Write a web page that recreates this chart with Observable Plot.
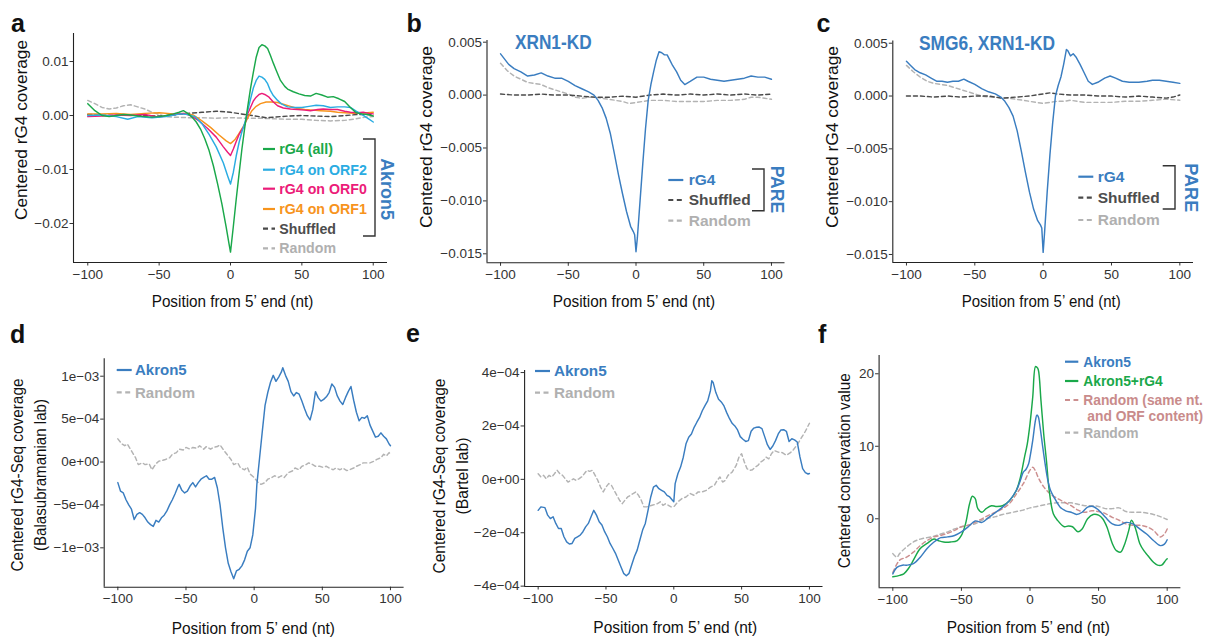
<!DOCTYPE html>
<html><head><meta charset="utf-8">
<script src="https://cdn.jsdelivr.net/npm/d3@7"></script>
<script src="https://cdn.jsdelivr.net/npm/@observablehq/plot@0.6"></script>
<style>
html,body{margin:0;padding:0;background:#fff;}
#root{position:relative;width:1205px;height:638px;overflow:hidden;background:#fff;}
#root svg{position:absolute;left:0;top:0;}
</style>
</head><body><div id="root"></div>
<script>
// ---------- shared axis data ----------
const X_TICKS = [-100, -50, 0, 50, 100];
const X_TICK_LABELS = ["−100", "−50", "0", "50", "100"];
const X_TITLE = "Position from 5’ end (nt)";

// ---------- panel a ----------
const aYTicks = [-0.02, -0.01, 0, 0.01];
const aYLabels = ["−0.02", "−0.01", "0.00", "0.01"];
const aAllPos = [-100,-95,-90,-85,-80,-75,-70,-65,-60,-55,-50,-45,-40,-36,-33,-30,-27,-24,-21,-18,-15,-12,-9,-6,-3,-1,0,2,4,6,8,10,12,14,16,18,20,22,24,26,28,30,32,35,38,40,44,48,52,56,60,64,68,72,76,80,84,88,92,96,100];
const aAllVal = [0.0022,0.0009,0.0000,-0.0002,0.0000,0.0002,0.0001,-0.0001,-0.0002,-0.0003,-0.0002,0.0000,0.0003,0.0006,0.0009,0.0004,-0.0003,-0.0012,-0.0025,-0.0043,-0.0065,-0.0093,-0.0127,-0.0164,-0.0207,-0.0238,-0.0253,-0.0205,-0.0155,-0.0108,-0.0062,-0.0022,0.0015,0.0050,0.0080,0.0108,0.0126,0.0131,0.0129,0.0124,0.0111,0.0097,0.0084,0.0065,0.0054,0.0049,0.0044,0.0040,0.0037,0.0036,0.0041,0.0038,0.0034,0.0035,0.0031,0.0026,0.0015,0.0005,0.0003,0.0002,-0.0001];
const aOrf2Pos = [-100,-90,-80,-72,-65,-55,-45,-35,-30,-25,-20,-15,-10,-5,-2,0,2,4,6,8,10,12,14,16,18,20,22,24,26,28,30,33,36,40,45,50,55,60,65,70,75,80,84,88,92,96,100];
const aOrf2Val = [0.0000,0.0001,-0.0002,-0.0007,-0.0002,-0.0004,-0.0002,0.0003,0.0002,-0.0002,-0.0015,-0.0035,-0.0058,-0.0088,-0.0112,-0.0127,-0.0105,-0.0075,-0.0050,-0.0030,-0.0014,0.0008,0.0030,0.0051,0.0065,0.0073,0.0071,0.0067,0.0059,0.0046,0.0037,0.0028,0.0021,0.0016,0.0015,0.0015,0.0017,0.0019,0.0018,0.0015,0.0016,0.0016,0.0015,0.0008,0.0002,-0.0005,-0.0012];
const aOrf0Pos = [-100,-90,-80,-70,-60,-50,-40,-33,-28,-22,-16,-10,-5,-2,0,2,4,6,8,10,12,14,16,18,20,22,24,27,30,33,37,42,47,52,56,61,65,70,75,80,84,89,93,97,100];
const aOrf0Val = [-0.0002,-0.0001,0.0001,0.0000,0.0002,-0.0003,0.0002,0.0004,0.0000,-0.0010,-0.0024,-0.0040,-0.0058,-0.0068,-0.0074,-0.0062,-0.0048,-0.0035,-0.0026,-0.0017,0.0003,0.0015,0.0027,0.0034,0.0039,0.0041,0.0039,0.0034,0.0025,0.0018,0.0014,0.0012,0.0011,0.0010,0.0009,0.0011,0.0012,0.0011,0.0011,0.0008,0.0006,0.0005,0.0006,0.0004,0.0003];
const aOrf1Pos = [-100,-90,-80,-70,-60,-50,-40,-32,-26,-20,-14,-8,-3,0,3,6,9,12,15,18,21,25,29,33,37,42,47,52,58,63,70,75,80,86,92,96,100];
const aOrf1Val = [0.0003,0.0003,0.0004,0.0002,0.0004,0.0005,0.0003,0.0004,0.0001,-0.0010,-0.0022,-0.0036,-0.0047,-0.0052,-0.0045,-0.0033,-0.0020,-0.0005,0.0009,0.0017,0.0022,0.0025,0.0025,0.0024,0.0021,0.0017,0.0013,0.0011,0.0010,0.0009,0.0008,0.0006,0.0005,0.0004,0.0004,0.0005,0.0006];
const aShufPos = [-100,-90,-80,-70,-60,-50,-40,-30,-20,-10,0,5,10,15,20,25,30,40,50,60,70,80,90,100];
const aShufVal = [0.0002,0.0001,0.0000,0.0001,0.0000,-0.0001,0.0001,0.0004,0.0006,0.0008,0.0006,0.0004,0.0002,0.0000,-0.0002,-0.0004,-0.0003,-0.0001,0.0000,-0.0001,-0.0002,0.0000,0.0002,0.0002];
const aRandPos = [-100,-95,-90,-85,-80,-75,-70,-65,-60,-55,-50,-45,-40,-30,-20,-10,0,10,20,30,40,50,60,70,80,88,94,100];
const aRandVal = [0.0028,0.0022,0.0015,0.0012,0.0014,0.0018,0.0020,0.0016,0.0012,0.0006,0.0002,-0.0002,-0.0003,-0.0004,-0.0004,-0.0005,-0.0004,-0.0005,-0.0005,-0.0006,-0.0007,-0.0007,-0.0009,-0.0010,-0.0009,-0.0006,-0.0003,-0.0002];

// ---------- panels b, c ----------
const bcYTicks = [-0.015, -0.01, -0.005, 0, 0.005];
const bcYLabels = ["−0.015", "−0.010", "−0.005", "0.000", "0.005"];
const bRg4Pos = [-100,-97,-94,-90,-85,-80,-75,-70,-65,-60,-55,-50,-45,-40,-35,-31,-28,-25,-22,-19,-16,-13,-10,-7,-4,-2,-1,0,1,3,5,7,9,11,13,15,17,19,21,23,25,27,30,33,36,40,45,50,55,60,65,70,75,80,85,90,95,100];
const bRg4Val = [0.0039,0.0034,0.0029,0.0025,0.0022,0.0018,0.0019,0.0021,0.0018,0.0016,0.0016,0.0013,0.0009,0.0006,0.0003,0.0000,-0.0005,-0.0012,-0.0022,-0.0036,-0.0055,-0.0075,-0.0093,-0.0110,-0.0124,-0.0129,-0.0132,-0.0148,-0.0135,-0.0100,-0.0065,-0.0032,-0.0005,0.0010,0.0022,0.0033,0.0041,0.0040,0.0038,0.0038,0.0033,0.0028,0.0022,0.0014,0.0010,0.0013,0.0017,0.0017,0.0015,0.0014,0.0013,0.0014,0.0015,0.0016,0.0018,0.0017,0.0017,0.0015];
const bShufPos = [-100,-90,-80,-70,-60,-50,-40,-30,-20,-10,0,10,20,30,40,50,60,70,80,90,100];
const bShufVal = [0.0001,0.0000,0.0000,0.0001,0.0000,0.0000,-0.0001,-0.0002,-0.0002,-0.0001,-0.0002,0.0000,0.0001,0.0000,0.0001,0.0000,0.0001,0.0000,0.0001,0.0000,0.0001];
const bRandPos = [-100,-95,-90,-85,-80,-75,-70,-65,-60,-55,-50,-45,-40,-35,-30,-25,-20,-15,-10,-5,0,5,10,20,30,40,50,60,70,80,85,90,95,100];
const bRandVal = [0.0030,0.0023,0.0018,0.0015,0.0012,0.0011,0.0010,0.0007,0.0005,0.0003,0.0001,-0.0002,-0.0003,-0.0002,-0.0002,-0.0003,-0.0004,-0.0005,-0.0006,-0.0008,-0.0007,-0.0006,-0.0005,-0.0005,-0.0006,-0.0006,-0.0006,-0.0005,-0.0005,-0.0004,-0.0002,-0.0002,-0.0003,-0.0004];

const cRg4Pos = [-100,-97,-94,-90,-86,-82,-78,-74,-70,-66,-62,-58,-55,-50,-45,-40,-35,-31,-28,-25,-22,-19,-16,-13,-10,-7,-4,-2,-1,0,1,3,5,7,9,11,13,15,17,18,20,22,24,27,30,33,36,40,45,49,53,58,63,70,76,80,85,90,95,100];
const cRg4Val = [0.0033,0.0029,0.0025,0.0022,0.0020,0.0017,0.0014,0.0014,0.0013,0.0014,0.0014,0.0016,0.0014,0.0011,0.0007,0.0004,0.0002,-0.0001,-0.0005,-0.0011,-0.0019,-0.0033,-0.0052,-0.0072,-0.0091,-0.0107,-0.0118,-0.0122,-0.0125,-0.0148,-0.0130,-0.0090,-0.0055,-0.0025,0.0000,0.0010,0.0018,0.0030,0.0044,0.0043,0.0038,0.0040,0.0037,0.0030,0.0022,0.0014,0.0011,0.0013,0.0017,0.0019,0.0017,0.0014,0.0013,0.0013,0.0014,0.0015,0.0015,0.0014,0.0013,0.0012];
const cShufPos = [-100,-90,-80,-70,-60,-50,-40,-30,-20,-10,-5,0,5,10,20,30,40,50,60,70,80,90,95,100];
const cShufVal = [0.0000,0.0000,-0.0001,0.0000,-0.0001,0.0000,0.0000,-0.0002,-0.0001,0.0000,0.0001,0.0002,0.0003,0.0002,0.0001,0.0001,0.0000,0.0000,-0.0001,0.0000,-0.0001,-0.0002,-0.0001,0.0001];
const cRandPos = [-100,-95,-90,-85,-80,-75,-70,-65,-60,-55,-50,-45,-40,-35,-30,-25,-20,-15,-10,-5,0,5,10,15,20,25,30,40,50,60,70,80,90,100];
const cRandVal = [0.0029,0.0023,0.0018,0.0014,0.0012,0.0011,0.0010,0.0008,0.0006,0.0004,0.0002,0.0000,-0.0001,-0.0001,-0.0002,-0.0002,-0.0003,-0.0004,-0.0005,-0.0006,-0.0007,-0.0006,-0.0005,-0.0005,-0.0004,-0.0005,-0.0006,-0.0006,-0.0006,-0.0005,-0.0005,-0.0004,-0.0003,-0.0004];

// ---------- panel d ----------
const dYTicks = [-1e-3, -5e-4, 0, 5e-4, 1e-3];
const dYLabels = ["−1e−03", "−5e−04", "0e+00", "5e−04", "1e−03"];
const dAkronPos = [-100,-98,-96,-94,-92,-90,-88,-86,-84,-82,-80,-78,-76,-74,-72,-70,-68,-66,-64,-62,-60,-58,-56,-55,-53,-51,-49,-47,-45,-43,-41,-39,-37,-35,-33,-31,-29,-27,-25,-23,-21,-19,-17,-15,-13,-11,-9,-7,-5,-3,-1,1,2,4,6,8,10,12,14,16,18,20,21,23,25,27,29,31,33,35,37,39,41,43,45,47,49,51,53,55,57,59,61,63,65,67,69,71,73,75,77,79,81,83,85,87,89,91,93,95,97,99,100];
const dAkronVal = [-2.4e-4,-3.4e-4,-3.6e-4,-4.4e-4,-5.0e-4,-5.5e-4,-6.7e-4,-6.1e-4,-5.9e-4,-6.1e-4,-6.5e-4,-7.0e-4,-7.3e-4,-7.5e-4,-6.8e-4,-7.0e-4,-6.5e-4,-6.2e-4,-5.7e-4,-5.0e-4,-4.4e-4,-3.7e-4,-2.9e-4,-2.6e-4,-3.3e-4,-3.6e-4,-3.4e-4,-2.8e-4,-2.4e-4,-2.9e-4,-2.4e-4,-2.0e-4,-1.8e-4,-1.6e-4,-2.0e-4,-2.0e-4,-1.8e-4,-3.0e-4,-5.0e-4,-7.7e-4,-1.0e-3,-1.18e-3,-1.28e-3,-1.36e-3,-1.27e-3,-1.25e-3,-1.21e-3,-1.14e-3,-1.04e-3,-1.0e-3,-8.5e-4,-5.4e-4,-2.6e-4,5e-5,3.6e-4,6.6e-4,8.1e-4,9.3e-4,1.01e-3,9.4e-4,9.9e-4,1.05e-3,1.1e-3,1.01e-3,9.4e-4,8.2e-4,7.7e-4,8.1e-4,7.9e-4,7.1e-4,6.2e-4,5.4e-4,4.9e-4,6.1e-4,8.2e-4,7.5e-4,7.1e-4,7.3e-4,7.6e-4,8.1e-4,9.1e-4,8.7e-4,7.7e-4,7.1e-4,6.7e-4,7.5e-4,8.2e-4,8.8e-4,7.2e-4,5.8e-4,4.8e-4,5.2e-4,5.1e-4,5.4e-4,4.3e-4,3.6e-4,2.9e-4,3.0e-4,3.4e-4,3.0e-4,2.7e-4,2.1e-4,1.9e-4];
const dRandPos = [-100,-97,-95,-93,-90,-87,-85,-82,-80,-77,-75,-72,-70,-67,-65,-62,-60,-57,-55,-52,-50,-47,-45,-42,-40,-37,-35,-32,-30,-27,-25,-22,-20,-17,-15,-12,-10,-7,-5,-3,0,3,5,8,10,13,15,18,20,22,25,28,30,33,35,38,40,43,45,48,50,53,55,58,60,63,65,68,70,73,75,78,80,83,85,88,90,93,95,97,99,100];
const dRandVal = [2.7e-4,2.1e-4,1.9e-4,2.1e-4,1.3e-4,5e-5,-3e-5,-1e-5,-3e-5,-2e-5,-9e-5,-2e-5,1e-5,2e-5,3e-5,5e-5,9e-5,1.1e-4,1.5e-4,1.4e-4,1.7e-4,1.5e-4,1.7e-4,1.6e-4,1.9e-4,1.5e-4,1.8e-4,1.5e-4,1.7e-4,1.8e-4,2.0e-4,1.3e-4,9e-5,3e-5,-3e-5,-1e-5,-7e-5,-9e-5,-6e-5,-1.4e-4,-1.8e-4,-2.4e-4,-2.6e-4,-2.4e-4,-2.0e-4,-1.8e-4,-1.6e-4,-1.8e-4,-1.6e-4,-1.8e-4,-1.25e-4,-1.05e-4,-7e-5,-9e-5,-5e-5,-3e-5,-1e-5,-3e-5,-5e-5,-5e-5,-6e-5,-5e-5,-7e-5,-9e-5,-7e-5,-9e-5,-7e-5,-1.0e-4,-9e-5,-7e-5,-5e-5,-3e-5,-1e-5,-1e-5,-1e-5,1e-5,3e-5,5e-5,9e-5,7e-5,1.1e-4,9e-5];

// ---------- panel e ----------
const eYTicks = [-4e-4, -2e-4, 0, 2e-4, 4e-4];
const eYLabels = ["−4e−04", "−2e−04", "0e+00", "2e−04", "4e−04"];
const eAkronPos = [-100,-98,-95,-93,-91,-89,-87,-85,-83,-81,-79,-77,-75,-73,-71,-69,-67,-65,-63,-61,-59,-57,-55,-53,-51,-49,-47,-45,-43,-41,-39,-37,-35,-33,-31,-29,-27,-25,-23,-21,-19,-17,-15,-13,-11,-9,-7,-5,-3,-1,0,1,3,5,7,9,11,13,15,17,19,21,23,25,27,28,29,31,33,35,37,39,41,43,45,47,49,51,53,55,57,59,61,63,65,67,69,71,73,75,77,79,81,83,85,87,89,91,93,95,97,99,100];
const eAkronVal = [-1.16e-4,-1.03e-4,-1.06e-4,-1.34e-4,-1.47e-4,-1.40e-4,-1.65e-4,-1.84e-4,-1.84e-4,-2.15e-4,-2.34e-4,-2.42e-4,-2.40e-4,-2.21e-4,-2.15e-4,-2.09e-4,-1.96e-4,-1.78e-4,-1.65e-4,-1.40e-4,-1.16e-4,-1.34e-4,-1.59e-4,-1.71e-4,-1.96e-4,-2.15e-4,-2.40e-4,-2.58e-4,-2.77e-4,-3.02e-4,-3.27e-4,-3.52e-4,-3.61e-4,-3.52e-4,-3.20e-4,-2.89e-4,-2.65e-4,-2.27e-4,-1.90e-4,-1.65e-4,-1.16e-4,-0.66e-4,-0.29e-4,-0.22e-4,-0.35e-4,-0.41e-4,-0.47e-4,-0.60e-4,-0.66e-4,-0.78e-4,-0.84e-4,-0.16e-4,0.21e-4,0.46e-4,0.83e-4,1.33e-4,1.58e-4,1.70e-4,1.95e-4,2.14e-4,2.32e-4,2.57e-4,2.76e-4,2.94e-4,3.32e-4,3.69e-4,3.63e-4,3.25e-4,3.00e-4,2.90e-4,2.75e-4,2.50e-4,2.28e-4,2.10e-4,2.00e-4,1.85e-4,1.60e-4,1.50e-4,1.42e-4,1.45e-4,1.80e-4,1.92e-4,1.95e-4,1.96e-4,1.90e-4,1.60e-4,1.30e-4,1.12e-4,1.25e-4,1.45e-4,1.70e-4,1.85e-4,1.86e-4,1.80e-4,1.42e-4,1.52e-4,1.48e-4,1.40e-4,0.84e-4,0.40e-4,0.25e-4,0.20e-4,0.22e-4];
const eRandPos = [-100,-98,-96,-94,-92,-90,-88,-86,-84,-82,-80,-78,-76,-74,-72,-70,-68,-66,-64,-62,-60,-58,-56,-54,-52,-50,-48,-46,-44,-42,-40,-38,-36,-34,-32,-30,-28,-26,-24,-22,-20,-16,-12,-10,-8,-6,-4,-2,0,3,6,9,12,15,18,21,24,27,30,32,34,36,38,40,43,46,48,50,52,54,56,58,60,62,64,66,68,70,72,74,77,80,83,86,88,91,94,97,100];
const eRandVal = [2.1e-5,0.9e-5,1.5e-5,0.2e-5,1.5e-5,0.9e-5,2.1e-5,3.4e-5,2.1e-5,1.5e-5,0.2e-5,-1.0e-5,-0.4e-5,0.2e-5,-0.4e-5,0.2e-5,0.9e-5,2.1e-5,3.4e-5,3.0e-5,3.4e-5,1.5e-5,-0.4e-5,-2.9e-5,-4.7e-5,-2.9e-5,-1.6e-5,-2.2e-5,-4.1e-5,-6.0e-5,-7.8e-5,-9.1e-5,-7.8e-5,-6.6e-5,-6.0e-5,-5.3e-5,-4.7e-5,-6.0e-5,-7.8e-5,-10.3e-5,-10.3e-5,-9.7e-5,-9.1e-5,-8.4e-5,-9.7e-5,-9.1e-5,-9.7e-5,-10.3e-5,-10.3e-5,-8.4e-5,-7.2e-5,-6.6e-5,-5.3e-5,-6.0e-5,-4.7e-5,-4.7e-5,-4.1e-5,-2.9e-5,-2.2e-5,-0.4e-5,0.9e-5,-1.0e-5,-0.4e-5,1.5e-5,2.7e-5,5.2e-5,8.3e-5,9.6e-5,6.5e-5,4.0e-5,3.4e-5,3.6e-5,4.6e-5,5.2e-5,6.5e-5,7.1e-5,8.3e-5,7.7e-5,9.6e-5,10.8e-5,10.2e-5,10.0e-5,9.0e-5,10.0e-5,11.0e-5,13.0e-5,15.5e-5,18.0e-5,21.0e-5];

// ---------- panel f ----------
const fYTicks = [0, 10, 20];
const fYLabels = ["0", "10", "20"];
const fAkronPos = [-100,-97,-93,-90,-85,-80,-75,-70,-67,-65,-60,-55,-50,-45,-40,-35,-30,-25,-20,-15,-10,-7,-5,-3,-1,0,2,4,5,6,7,9,11,13,15,18,22,26,30,34,38,42,46,50,55,60,65,70,75,80,85,90,95,98,100];
const fAkronVal = [-7.6,-6.7,-6.4,-6.4,-6.2,-5.3,-4.1,-3.2,-2.8,-2.6,-2.5,-2.3,-1.8,-1.1,-0.3,-0.5,0.2,0.9,1.6,2.5,3.9,5.3,6.4,6.8,7.6,8.5,10.8,13.6,14.3,14.1,13.1,10.3,7.6,5.3,3.9,2.8,1.6,1.1,0.9,0.6,0.9,1.6,1.7,1.2,0.2,-0.7,-0.9,-0.5,-0.7,-1.4,-2.1,-3.0,-3.7,-3.5,-2.9];
const fGreenPos = [-100,-95,-92,-88,-85,-80,-75,-70,-67,-63,-58,-53,-50,-47,-44,-42,-40,-38,-35,-32,-28,-25,-20,-15,-10,-7,-4,-2,0,2,4,5,6,8,10,12,14,17,20,25,28,31,35,38,42,46,50,53,56,60,63,66,69,72,74,77,80,83,86,90,93,96,99,100];
const fGreenVal = [-8.0,-7.8,-7.6,-6.7,-5.7,-4.1,-3.4,-2.8,-3.0,-3.2,-3.2,-3.0,-2.3,-0.7,2.1,3.1,2.8,1.4,0.9,1.4,1.8,1.7,1.8,2.5,3.9,5.7,8.5,10.3,13.1,16.8,21.0,20.9,20.6,16.3,11.7,8.0,3.9,0.7,-0.2,-1.1,-1.0,-1.1,-1.8,-1.4,0.0,0.6,0.5,0.0,-1.1,-3.4,-4.4,-4.6,-3.5,-1.6,-0.2,-1.4,-3.4,-4.4,-5.1,-6.0,-6.4,-6.4,-5.7,-5.5];
const fRandNtPos = [-100,-95,-90,-85,-80,-75,-70,-65,-60,-55,-50,-45,-40,-35,-30,-25,-20,-15,-10,-5,0,2,4,6,10,15,20,25,30,35,40,45,50,55,60,65,70,75,80,85,90,95,98,100];
const fRandNtVal = [-7.4,-5.7,-5.3,-4.6,-3.7,-3.0,-2.5,-2.3,-2.0,-1.6,-1.1,-0.9,-0.5,0.0,0.5,0.9,1.4,2.1,3.4,4.8,6.7,7.1,6.6,5.7,4.4,3.4,2.8,2.3,1.8,1.2,0.9,1.1,1.0,0.7,0.2,-0.2,-0.7,-0.9,-0.9,-1.1,-1.6,-2.5,-2.1,-1.4];
const fRandPos = [-100,-97,-95,-90,-85,-80,-75,-70,-65,-60,-55,-50,-45,-40,-35,-30,-25,-20,-15,-10,-5,0,5,10,15,20,25,30,35,40,45,50,55,60,65,70,75,80,85,90,95,100];
const fRandVal = [-4.8,-5.3,-4.8,-3.9,-3.2,-2.8,-2.6,-2.4,-2.1,-1.8,-1.4,-1.1,-0.9,-0.7,-0.2,0.1,0.3,0.6,0.8,1.0,1.2,1.5,1.7,1.9,2.1,2.2,2.2,2.2,2.0,1.8,1.8,1.7,1.4,1.4,1.5,1.0,0.9,0.9,0.8,0.6,0.3,-0.1];

// ---------- styling ----------
const FONT = '"Liberation Sans", Arial, Helvetica, sans-serif';
const COL = {blue:"#3a7dc0", green:"#1aa84a", cyan:"#2aace2", magenta:"#ec1c79", orange:"#f7941d",
             dark:"#4a4a4a", light:"#b3b3b3", rosy:"#cc8f8f", axis:"#222", tick:"#333"};
const DASH = "5,3.5";
const W = 1205, H = 638;
const root = document.getElementById("root");
const pairs = (xs, ys) => xs.map((x, i) => ({x, y: ys[i]}));

function panel(p) {
  const [L, R, T, B] = p.frame;
  const marks = [
    Plot.ruleX([p.xDomain[0]], {stroke: COL.axis, strokeWidth: 1.1}),
    Plot.ruleY([p.yDomain[0]], {stroke: COL.axis, strokeWidth: 1.1}),
    ...p.series.map(s => Plot.line(pairs(s.pos, s.val), {
      x: "x", y: "y", stroke: s.color, strokeWidth: 1.45,
      strokeDasharray: s.dash ? "4,3" : null, curve: p.curve || "linear"}))
  ];
  const svg = Plot.plot({
    width: W, height: H,
    marginLeft: L, marginRight: W - R, marginTop: T, marginBottom: H - B,
    x: {domain: p.xDomain, ticks: X_TICKS, tickFormat: d => X_TICK_LABELS[X_TICKS.indexOf(d)],
        tickSize: 3.5, tickPadding: 3, label: null},
    y: {domain: p.yDomain, ticks: p.yTicks, tickFormat: d => p.yLabels[p.yTicks.indexOf(d)],
        tickSize: 3.5, tickPadding: 1.5, label: null},
    style: {background: "transparent", fontFamily: FONT, fontSize: "13.5px", color: COL.tick, overflow: "visible"},
    marks
  });
  svg.style.position = "absolute"; svg.style.left = "0px"; svg.style.top = "0px";
  root.appendChild(svg);
}

const XD = [-110, 110];
panel({frame: [73, 387, 33, 262], xDomain: XD, yDomain: [-0.02722, 0.01519], yTicks: aYTicks, yLabels: aYLabels,
  series: [
    {pos: aRandPos, val: aRandVal, color: COL.light, dash: true},
    {pos: aShufPos, val: aShufVal, color: COL.dark, dash: true},
    {pos: aOrf1Pos, val: aOrf1Val, color: COL.orange},
    {pos: aOrf0Pos, val: aOrf0Val, color: COL.magenta},
    {pos: aOrf2Pos, val: aOrf2Val, color: COL.cyan},
    {pos: aAllPos, val: aAllVal, color: COL.green}]});
panel({frame: [486.5, 784.5, 40, 262.3], xDomain: XD, yDomain: [-0.01585, 0.00516], yTicks: bcYTicks, yLabels: bcYLabels,
  series: [
    {pos: bRandPos, val: bRandVal, color: COL.light, dash: true},
    {pos: bShufPos, val: bShufVal, color: COL.dark, dash: true},
    {pos: bRg4Pos, val: bRg4Val, color: COL.blue}]});
panel({frame: [892.3, 1193, 40.6, 262], xDomain: XD, yDomain: [-0.01576, 0.0052], yTicks: bcYTicks, yLabels: bcYLabels,
  series: [
    {pos: cRandPos, val: cRandVal, color: COL.light, dash: true},
    {pos: cShufPos, val: cShufVal, color: COL.dark, dash: true},
    {pos: cRg4Pos, val: cRg4Val, color: COL.blue}]});
panel({frame: [103.7, 403.6, 358.3, 586.7], xDomain: XD, yDomain: [-1.459e-3, 1.203e-3], yTicks: dYTicks, yLabels: dYLabels,
  series: [
    {pos: dRandPos, val: dRandVal, color: COL.light, dash: true},
    {pos: dAkronPos, val: dAkronVal, color: COL.blue}]});
panel({frame: [524.1, 822.5, 370, 586], xDomain: XD, yDomain: [-4.013e-4, 4.077e-4], yTicks: eYTicks, yLabels: eYLabels,
  series: [
    {pos: eRandPos, val: eRandVal, color: COL.light, dash: true},
    {pos: eAkronPos, val: eAkronVal, color: COL.blue}]});
panel({frame: [878.6, 1180.4, 355, 587.3], xDomain: XD, yDomain: [-9.52, 22.52], yTicks: fYTicks, yLabels: fYLabels,
  curve: "catmull-rom",
  series: [
    {pos: fRandPos, val: fRandVal, color: COL.light, dash: true},
    {pos: fRandNtPos, val: fRandNtVal, color: COL.rosy, dash: true},
    {pos: fGreenPos, val: fGreenVal, color: COL.green},
    {pos: fAkronPos, val: fAkronVal, color: COL.blue}]});

// ---------- annotations (text, legends, brackets) ----------
const ov = d3.select(root).append("svg").attr("width", W).attr("height", H)
  .attr("font-family", FONT).style("position", "absolute").style("left", 0).style("top", 0);

function txt(x, y, s, o = {}) {
  const t = ov.append("text").attr("x", x).attr("y", y).text(s)
    .attr("font-size", o.size || 14).attr("fill", o.fill || "#111")
    .attr("text-anchor", o.anchor || "start");
  if (!o.baseline) t.attr("dy", "0.35em");
  if (o.bold) t.attr("font-weight", "bold");
  if (o.len) t.attr("textLength", o.len).attr("lengthAdjust", "spacingAndGlyphs");
  if (o.rotate) t.attr("transform", `rotate(${o.rotate},${x},${y})`);
  return t;
}
function legend(entries, x1, x2, tx, ys, size) {
  entries.forEach((e, i) => {
    ov.append("line").attr("x1", x1).attr("x2", x2).attr("y1", ys[i]).attr("y2", ys[i])
      .attr("stroke", e.color).attr("stroke-width", 2.2).attr("stroke-dasharray", e.dash ? DASH : null);
    txt(tx, ys[i], e.label, {size, bold: true, fill: e.text || e.color});
  });
}
function bracket(xv, xt, y1, y2) {
  ov.append("path").attr("d", `M${xt},${y1}H${xv}V${y2}H${xt}`)
    .attr("fill", "none").attr("stroke", "#333").attr("stroke-width", 1.4);
}

// panel letters
[["a", 11, 31.7], ["b", 406.5, 31.7], ["c", 816.5, 31.7], ["d", 10, 343.3], ["e", 406, 342.3], ["f", 818, 343.3]]
  .forEach(([s, x, y]) => txt(x, y, s, {size: 25, bold: true, baseline: true, fill: "#111"}));

// x titles
[[232.5, 301.5, 161.6], [633.9, 301.5, 162.3], [1041.2, 301.5, 159], [253.3, 627.8, 163.3], [675.3, 627.5, 164], [1028.3, 627.5, 163.3]]
  .forEach(([x, y, len]) => txt(x, y, X_TITLE, {size: 16.5, anchor: "middle", len}));

// y titles
txt(21, 130, "Centered rG4 coverage", {size: 17, anchor: "middle", rotate: -90, len: 180});
txt(426, 137, "Centered rG4 coverage", {size: 17, anchor: "middle", rotate: -90, len: 182});
txt(832, 137, "Centered rG4 coverage", {size: 17, anchor: "middle", rotate: -90, len: 182});
txt(17.5, 475, "Centered rG4-Seq coverage", {size: 17, anchor: "middle", rotate: -90, len: 193});
txt(40.5, 475, "(Balasubramanian lab)", {size: 17, anchor: "middle", rotate: -90, len: 152});
txt(439, 476, "Centered rG4-Seq coverage", {size: 17, anchor: "middle", rotate: -90, len: 195});
txt(462, 476, "(Bartel lab)", {size: 17, anchor: "middle", rotate: -90, len: 77});
txt(844, 470.8, "Centered conservation value", {size: 17, anchor: "middle", rotate: -90, len: 195});

// panel titles
txt(553.3, 41.7, "XRN1-KD", {size: 20, bold: true, anchor: "middle", fill: COL.blue, len: 76.7});
txt(987, 42.7, "SMG6, XRN1-KD", {size: 20, bold: true, anchor: "middle", fill: COL.blue, len: 136});

// legends
const aLegend = [
  {label: "rG4 (all)", color: COL.green}, {label: "rG4 on ORF2", color: COL.cyan},
  {label: "rG4 on ORF0", color: COL.magenta}, {label: "rG4 on ORF1", color: COL.orange},
  {label: "Shuffled", color: COL.dark, dash: true, text: "#4d4d4d"},
  {label: "Random", color: COL.light, dash: true, text: "#b0b0b0"}];
legend(aLegend, 263, 275, 279.3, [149, 169.7, 188.7, 209, 228.7, 248.3], 14.2);
bracket(375, 363, 139, 236);
txt(387.5, 189, "Akron5", {size: 18, bold: true, anchor: "middle", rotate: 90, fill: COL.blue, len: 61.7});

const pareLegend = [
  {label: "rG4", color: COL.blue},
  {label: "Shuffled", color: COL.dark, dash: true, text: "#4d4d4d"},
  {label: "Random", color: COL.light, dash: true, text: "#b0b0b0"}];
legend(pareLegend, 668.3, 683.3, 688.7, [180, 200, 220.7], 15.5);
bracket(764, 752, 169, 210.7);
txt(777.5, 189.5, "PARE", {size: 18, bold: true, anchor: "middle", rotate: 90, fill: COL.blue, len: 47.7});
legend(pareLegend, 1078.3, 1093.3, 1097.7, [176.7, 197.7, 220], 15.5);
bracket(1175, 1162.7, 165.7, 209);
txt(1190.8, 187.8, "PARE", {size: 18, bold: true, anchor: "middle", rotate: 90, fill: COL.blue, len: 49});

const deLegend = [
  {label: "Akron5", color: COL.blue},
  {label: "Random", color: COL.light, dash: true, text: "#b0b0b0"}];
legend(deLegend, 116.7, 131.7, 135, [370, 392.3], 15);
legend(deLegend, 535, 550, 554, [371, 392.7], 15.3);

const fLegend = [
  {label: "Akron5", color: COL.blue},
  {label: "Akron5+rG4", color: COL.green},
  {label: "Random (same nt.", color: COL.rosy, dash: true, text: "#c98b8b"},
  {label: "Random", color: COL.light, dash: true, text: "#b0b0b0"}];
legend(fLegend, 1065, 1078.3, 1083.3, [361.7, 381, 400, 432.7], 13.8);
txt(1087.3, 416, "and ORF content)", {size: 13.8, bold: true, fill: "#c98b8b"});
</script>
</body></html>
